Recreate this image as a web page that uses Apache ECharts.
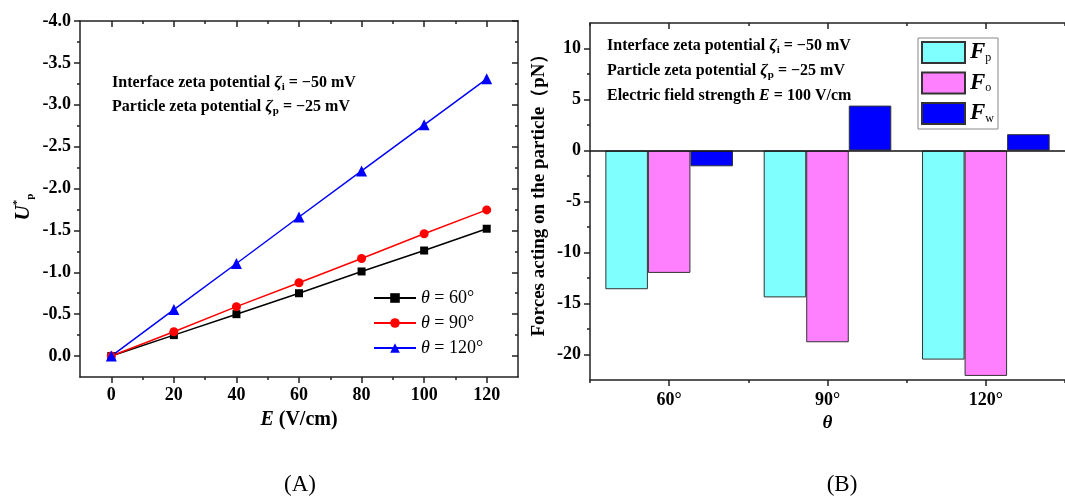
<!DOCTYPE html>
<html><head><meta charset="utf-8">
<script src="https://cdn.jsdelivr.net/npm/echarts@6/dist/echarts.min.js"></script>
<style>html,body{margin:0;padding:0;background:#fff}#c{width:1065px;height:497px}</style>
</head><body><div id="c"></div>
<script>
// ---- data (panel A) ----
const E_VALUES = [0, 20, 40, 60, 80, 100, 120];
const U_60 = [0, -0.25, -0.50, -0.75, -1.01, -1.26, -1.52];
const U_90 = [0, -0.29, -0.59, -0.875, -1.165, -1.46, -1.745];
const U_120 = [0, -0.555, -1.105, -1.66, -2.21, -2.76, -3.31];
const ANGLE_NAMES = ['θ = 60°', 'θ = 90°', 'θ = 120°'];
const X_TICKS_A = [0, 20, 40, 60, 80, 100, 120];
const X_MINOR_A = [10, 30, 50, 70, 90, 110];
const Y_TICKS_A = [-4, -3.5, -3, -2.5, -2, -1.5, -1, -0.5, 0];
const Y_MINOR_A = [-3.75, -3.25, -2.75, -2.25, -1.75, -1.25, -0.75, -0.25];
// ---- data (panel B) ----
const THETA_CATS = ['60°', '90°', '120°'];
const FORCE_NAMES = ['Fp', 'Fo', 'Fw'];
const F_P = [-13.6, -14.4, -20.5];
const F_O = [-12.0, -18.8, -22.1];
const F_W = [-1.55, 4.4, 1.6];
const Y_TICKS_B = [-20, -15, -10, -5, 0, 5, 10];
const Y_MINOR_B = [-17.5, -12.5, -7.5, -2.5, 2.5, 7.5];

const FF = "'Times New Roman', 'Liberation Serif', serif";
const AX = '#222';
function ts(size, weight, style, extra) {
  return Object.assign({fontFamily: FF, fontSize: size, fontWeight: weight || 'normal', fontStyle: style || 'normal', color: '#000'}, extra || {});
}
const lineS = {show: true, onZero: false, lineStyle: {color: AX, width: 1.5}};
const noLine = {show: false, onZero: false};
const noLabel = {show: false};

function valAxis(o) {
  return Object.assign({type: 'value', splitLine: {show: false}, axisLine: noLine, axisLabel: noLabel, axisTick: {show: false}}, o);
}
function catAxis(o) {
  return Object.assign({type: 'category', data: THETA_CATS, gridIndex: 1, splitLine: {show: false}, axisLine: noLine, axisLabel: noLabel}, o);
}

const chart = echarts.init(document.getElementById('c'), null, {renderer: 'canvas'});

const xAxes = [
  // panel A bottom main
  valAxis({gridIndex: 0, position: 'bottom', min: -10, max: 130, interval: 10,
    axisLine: lineS,
    axisTick: {show: true, customValues: X_TICKS_A, length: 6, inside: false, lineStyle: {color: AX, width: 1.5}},
    axisLabel: Object.assign({show: true, customValues: X_TICKS_A, margin: 9}, ts(18, 'bold')),
    name: '{e|E} (V/cm)', nameLocation: 'middle', nameGap: 33,
    nameTextStyle: Object.assign(ts(20, 'bold'), {rich: {e: ts(20, 'bold', 'italic')}})
  }),
  valAxis({gridIndex: 0, position: 'bottom', min: -10, max: 130, interval: 10,
    axisTick: {show: true, customValues: X_MINOR_A, length: 3, lineStyle: {color: AX, width: 1.5}}}),
  valAxis({gridIndex: 0, position: 'top', min: -10, max: 130, interval: 10,
    axisLine: lineS,
    axisTick: {show: true, customValues: X_TICKS_A, length: 6, inside: true, lineStyle: {color: AX, width: 1.5}}}),
  valAxis({gridIndex: 0, position: 'top', min: -10, max: 130, interval: 10,
    axisTick: {show: true, customValues: X_MINOR_A, length: 3, inside: true, lineStyle: {color: AX, width: 1.5}}}),
  // panel B
  catAxis({position: 'bottom', axisLine: lineS,
    axisTick: {show: true, alignWithLabel: true, interval: 0, length: 6, lineStyle: {color: AX, width: 1.5}},
    axisLabel: Object.assign({show: true, margin: 11, interval: 0}, ts(18, 'bold')),
    name: 'θ', nameLocation: 'middle', nameGap: 30, nameTextStyle: ts(19, 'bold', 'italic')}),
  catAxis({position: 'bottom',
    axisTick: {show: true, alignWithLabel: false, interval: 0, length: 3, lineStyle: {color: AX, width: 1.5}}}),
  catAxis({position: 'top', axisLine: lineS,
    axisTick: {show: true, alignWithLabel: true, interval: 0, inside: true, length: 6, lineStyle: {color: AX, width: 1.5}}}),
  catAxis({position: 'top',
    axisTick: {show: true, alignWithLabel: false, interval: 0, inside: true, length: 3, lineStyle: {color: AX, width: 1.5}}})
];

const yAxes = [
  valAxis({gridIndex: 0, position: 'left', inverse: true, min: -4, max: 0.25, interval: 0.25,
    axisLine: lineS,
    axisTick: {show: true, customValues: Y_TICKS_A, length: 6, lineStyle: {color: AX, width: 1.5}},
    axisLabel: Object.assign({show: true, customValues: Y_TICKS_A, margin: 9, formatter: v => Number(v).toFixed(1)}, ts(18, 'bold')),
    name: '{u|U}{sp|*}{sb|p}', nameLocation: 'middle', nameGap: 44, nameRotate: 90,
    nameTextStyle: Object.assign(ts(20, 'bold', 'italic'), {padding: [0, 16, 0, 0], lineHeight: 24,
      rich: {u: ts(21, 'bold', 'italic', {lineHeight: 24}),
             sp: ts(11, 'bold', 'normal', {verticalAlign: 'top', lineHeight: 12}),
             sb: ts(11, 'bold', 'normal', {verticalAlign: 'bottom', lineHeight: 10})}})
  }),
  valAxis({gridIndex: 0, position: 'left', inverse: true, min: -4, max: 0.25, interval: 0.25,
    axisTick: {show: true, customValues: Y_MINOR_A, length: 3, lineStyle: {color: AX, width: 1.5}}}),
  valAxis({gridIndex: 0, position: 'right', inverse: true, min: -4, max: 0.25, interval: 0.25,
    axisLine: lineS,
    axisTick: {show: true, customValues: Y_TICKS_A, length: 6, inside: true, lineStyle: {color: AX, width: 1.5}}}),
  valAxis({gridIndex: 0, position: 'right', inverse: true, min: -4, max: 0.25, interval: 0.25,
    axisTick: {show: true, customValues: Y_MINOR_A, length: 3, inside: true, lineStyle: {color: AX, width: 1.5}}}),
  // panel B
  valAxis({gridIndex: 1, position: 'left', min: -22.5, max: 12.5, interval: 2.5,
    axisLine: lineS,
    axisTick: {show: true, customValues: Y_TICKS_B, length: 6, lineStyle: {color: AX, width: 1.5}},
    axisLabel: Object.assign({show: true, customValues: Y_TICKS_B, margin: 9}, ts(18, 'bold')),
    name: 'Forces acting on the particle（pN）', nameLocation: 'middle', nameGap: 41, nameRotate: 90,
    nameTextStyle: Object.assign(ts(19, 'bold'), {padding: [0, 0, 0, 22]})
  }),
  valAxis({gridIndex: 1, position: 'left', min: -22.5, max: 12.5, interval: 2.5,
    axisTick: {show: true, customValues: Y_MINOR_B, length: 3, lineStyle: {color: AX, width: 1.5}}})
];

const lineSeries = [
  {name: ANGLE_NAMES[0], vals: U_60, color: '#000000', symbol: 'rect', size: 8},
  {name: ANGLE_NAMES[1], vals: U_90, color: '#FF0000', symbol: 'circle', size: 9},
  {name: ANGLE_NAMES[2], vals: U_120, color: '#0000FF', symbol: 'triangle', size: 11}
].map(s => ({
  type: 'line', name: s.name, xAxisIndex: 0, yAxisIndex: 0,
  data: E_VALUES.map((e, i) => [e, s.vals[i]]),
  symbol: s.symbol, symbolSize: s.size, showSymbol: true,
  itemStyle: {color: s.color}, lineStyle: {color: s.color, width: 1.5},
  animation: false, silent: true
}));

const barColors = ['#80FFFF', '#FF80FF', '#0000FF'];
const barSeries = [F_P, F_O, F_W].map((vals, k) => ({
  type: 'bar', name: FORCE_NAMES[k], xAxisIndex: 4, yAxisIndex: 4, data: vals,
  barGap: 0, barCategoryGap: '19.4%',
  itemStyle: {color: barColors[k], borderColor: '#333', borderWidth: 1},
  animation: false, silent: true
}));
barSeries[0].markLine = {silent: true, symbol: ['none', 'none'], label: {show: false},
  lineStyle: {color: '#111', width: 1.5, type: 'solid'}, data: [{yAxis: 0}], animation: false};

const sub = (extra) => ts(11, 'bold', 'normal', Object.assign({verticalAlign: 'bottom', lineHeight: 10}, extra || {}));

function annot(x, y, text, rich) {
  return {type: 'text', left: x, top: y, silent: true,
    style: Object.assign(ts(16, 'bold'), {text: text, fill: '#000', lineHeight: 20, rich: rich})};
}
const richA = {
  z: ts(17, 'bold', 'italic', {fill: '#000', lineHeight: 20}),
  s: Object.assign(sub(), {fill: '#000'}),
  e: ts(16, 'bold', 'italic', {fill: '#000', lineHeight: 20})
};

const option = {
  backgroundColor: '#fff',
  animation: false,
  grid: [
    {left: 80, top: 21, width: 438, height: 356},
    {left: 590, top: 23, right: -9, height: 357}
  ],
  xAxis: xAxes,
  yAxis: yAxes,
  legend: [
    {data: ANGLE_NAMES, orient: 'vertical', left: 373, top: 289, padding: 0,
      itemWidth: 42, itemHeight: 12, itemGap: 7, itemTextGap: 5,
      formatter: n => '{i|θ}' + n.slice(1),
      textStyle: Object.assign(ts(18), {lineHeight: 18, rich: {i: ts(18, 'normal', 'italic', {lineHeight: 18})}})},
    {data: FORCE_NAMES, orient: 'vertical', left: 918, top: 38, padding: [3, 4, 4, 3],
      borderColor: '#888', borderWidth: 1, icon: 'rect',
      itemWidth: 43, itemHeight: 21, itemGap: 7.5, itemTextGap: 5,
      formatter: n => '{f|F}{s|' + n.slice(1) + '}',
      textStyle: Object.assign(ts(22, 'bold', 'italic'), {lineHeight: 22,
        rich: {f: ts(23, 'bold', 'italic', {lineHeight: 22}), s: ts(12, 'normal', 'normal', {verticalAlign: 'bottom', lineHeight: 10})}})}
  ],
  graphic: [
    annot(112, 73, 'Interface zeta potential {z|ζ}{s|i} = −50 mV', richA),
    annot(112, 97, 'Particle zeta potential {z|ζ}{s|p} = −25 mV', richA),
    annot(607, 36, 'Interface zeta potential {z|ζ}{s|i} = −50 mV', richA),
    annot(607, 61, 'Particle zeta potential {z|ζ}{s|p} = −25 mV', richA),
    annot(607, 86, 'Electric field strength {e|E} = 100 V/cm', richA),
    {type: 'text', x: 300, y: 485, silent: true,
      style: Object.assign(ts(23), {text: '(A)', fill: '#000', align: 'center', verticalAlign: 'middle', textAlign: 'center', textVerticalAlign: 'middle'})},
    {type: 'text', x: 842, y: 485, silent: true,
      style: Object.assign(ts(23), {text: '(B)', fill: '#000', align: 'center', verticalAlign: 'middle', textAlign: 'center', textVerticalAlign: 'middle'})}
  ],
  series: lineSeries.concat(barSeries)
};
chart.setOption(option);
</script>
</body></html>
